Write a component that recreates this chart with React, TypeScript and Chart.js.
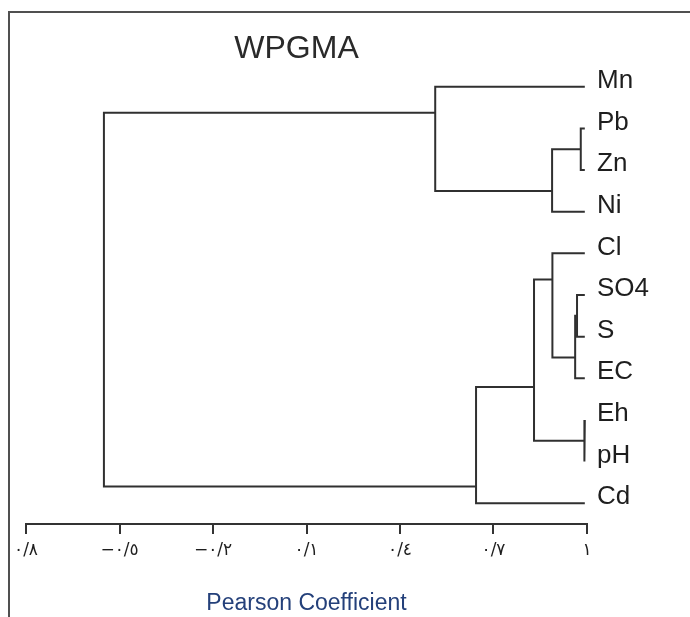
import React, { useEffect, useRef } from "react";
import { Chart, registerables } from "chart.js";

Chart.register(...registerables);

// Leaves of the dendrogram, top to bottom
const leaves = ["Mn", "Pb", "Zn", "Ni", "Cl", "SO4", "S", "EC", "Eh", "pH", "Cd"];
// Similarity level where leaf branches end
const leafHeight = 0.993;
// Merges: node id = leaves.length + merge index
const mergeLeft = [1, 11, 0, 5, 14, 4, 8, 16, 18, 13];
const mergeRight = [2, 3, 12, 6, 7, 15, 9, 17, 10, 19];
const mergeHeight = [0.98, 0.888, 0.513, 0.968, 0.962, 0.889, 0.991, 0.83, 0.644, -0.55];
// X axis ticks
const tickValues = [-0.8, -0.5, -0.2, 0.1, 0.4, 0.7, 1];
const tickLabels = ["٠/٨", "−٠/٥", "−٠/٢", "٠/١", "٠/٤", "٠/٧", "١"];
const chartTitle = "WPGMA";
const axisTitle = "Pearson Coefficient";

function buildDatasets() {
  const ys: number[] = [];
  const hs: number[] = [];
  const sizes: number[] = [];
  leaves.forEach((_, i) => {
    ys.push(i);
    hs.push(leafHeight);
    sizes.push(1);
  });
  const datasets: any[] = [];
  mergeLeft.forEach((a, k) => {
    const b = mergeRight[k];
    const h = mergeHeight[k];
    const na = sizes[a];
    const nb = sizes[b];
    const y = (ys[a] * nb + ys[b] * na) / (na + nb);
    datasets.push({
      data: [
        { x: hs[a], y: ys[a] },
        { x: h, y: ys[a] },
        { x: h, y: ys[b] },
        { x: hs[b], y: ys[b] },
      ],
      showLine: true,
      borderColor: "#303030",
      borderWidth: 2,
      pointRadius: 0,
      pointHoverRadius: 0,
      tension: 0,
      borderJoinStyle: "miter",
      borderCapStyle: "butt",
      clip: false,
    });
    ys.push(y);
    hs.push(h);
    sizes.push(na + nb);
  });
  return datasets;
}

const decorPlugin = {
  id: "decor",
  beforeDraw(chart: any) {
    const ctx = chart.ctx;
    ctx.save();
    ctx.fillStyle = "#ffffff";
    ctx.fillRect(0, 0, chart.width, chart.height);
    ctx.strokeStyle = "#505050";
    ctx.lineWidth = 2;
    ctx.beginPath();
    ctx.moveTo(9, chart.height);
    ctx.lineTo(9, 12);
    ctx.lineTo(chart.width, 12);
    ctx.stroke();
    ctx.restore();
  },
  afterDraw(chart: any) {
    const ctx = chart.ctx;
    const area = chart.chartArea;
    ctx.save();
    ctx.fillStyle = "#2a2a2a";
    ctx.font = "32px 'Liberation Sans', Arial, sans-serif";
    ctx.textAlign = "center";
    ctx.textBaseline = "middle";
    ctx.fillText(chartTitle, (area.left + area.right) / 2 - 10, 49);
    ctx.restore();
  },
};

export default function App() {
  const ref = useRef<HTMLCanvasElement | null>(null);
  useEffect(() => {
    if (!ref.current) return;
    const chart = new Chart(ref.current, {
      type: "scatter",
      data: { datasets: buildDatasets() },
      options: {
        animation: false,
        responsive: false,
        devicePixelRatio: 1,
        layout: { padding: { left: 26, top: 66, right: 0, bottom: 0 } },
        plugins: {
          legend: { display: false },
          tooltip: { enabled: false },
          title: { display: false },
        },
        scales: {
          x: {
            type: "linear",
            position: "bottom",
            min: -0.8,
            max: 1,
            afterBuildTicks: (scale: any) => {
              scale.ticks = tickValues.map((v) => ({ value: v }));
            },
            afterFit: (scale: any) => {
              scale.height = 93;
            },
            ticks: {
              autoSkip: false,
              maxRotation: 0,
              padding: 6,
              color: "#1e1e1e",
              font: { family: "'DejaVu Sans', sans-serif", size: 17 },
              callback: (value: any) => {
                const i = tickValues.findIndex((v) => Math.abs(v - Number(value)) < 1e-6);
                return i >= 0 ? tickLabels[i] : "";
              },
            },
            grid: {
              display: true,
              drawOnChartArea: false,
              drawTicks: true,
              tickLength: 10,
              color: "#333333",
              lineWidth: 2,
            },
            border: { display: true, color: "#333333", width: 2 },
            title: {
              display: true,
              text: axisTitle,
              color: "#24407a",
              font: { family: "'Liberation Sans', Arial, sans-serif", size: 23, lineHeight: 1 },
              padding: { top: 0, bottom: 2 },
            },
          },
          y: {
            type: "linear",
            position: "right",
            reverse: true,
            min: -0.5,
            max: 10.5,
            afterBuildTicks: (scale: any) => {
              scale.ticks = leaves.map((_, i) => ({ value: i }));
            },
            afterFit: (scale: any) => {
              scale.width = 103;
            },
            ticks: {
              autoSkip: false,
              padding: 10,
              labelOffset: -6,
              color: "#1e1e1e",
              font: { family: "'Liberation Sans', Arial, sans-serif", size: 26 },
              callback: (value: any) => leaves[Math.round(Number(value))] ?? "",
            },
            grid: { display: false, drawTicks: false },
            border: { display: false },
          },
        },
      },
      plugins: [decorPlugin],
    } as any);
    return () => chart.destroy();
  }, []);
  return (
    <div style={{ position: "absolute", left: 0, top: 0, width: 690, height: 617 }}>
      <canvas ref={ref} width={690} height={617} style={{ width: 690, height: 617, display: "block" }} />
    </div>
  );
}
